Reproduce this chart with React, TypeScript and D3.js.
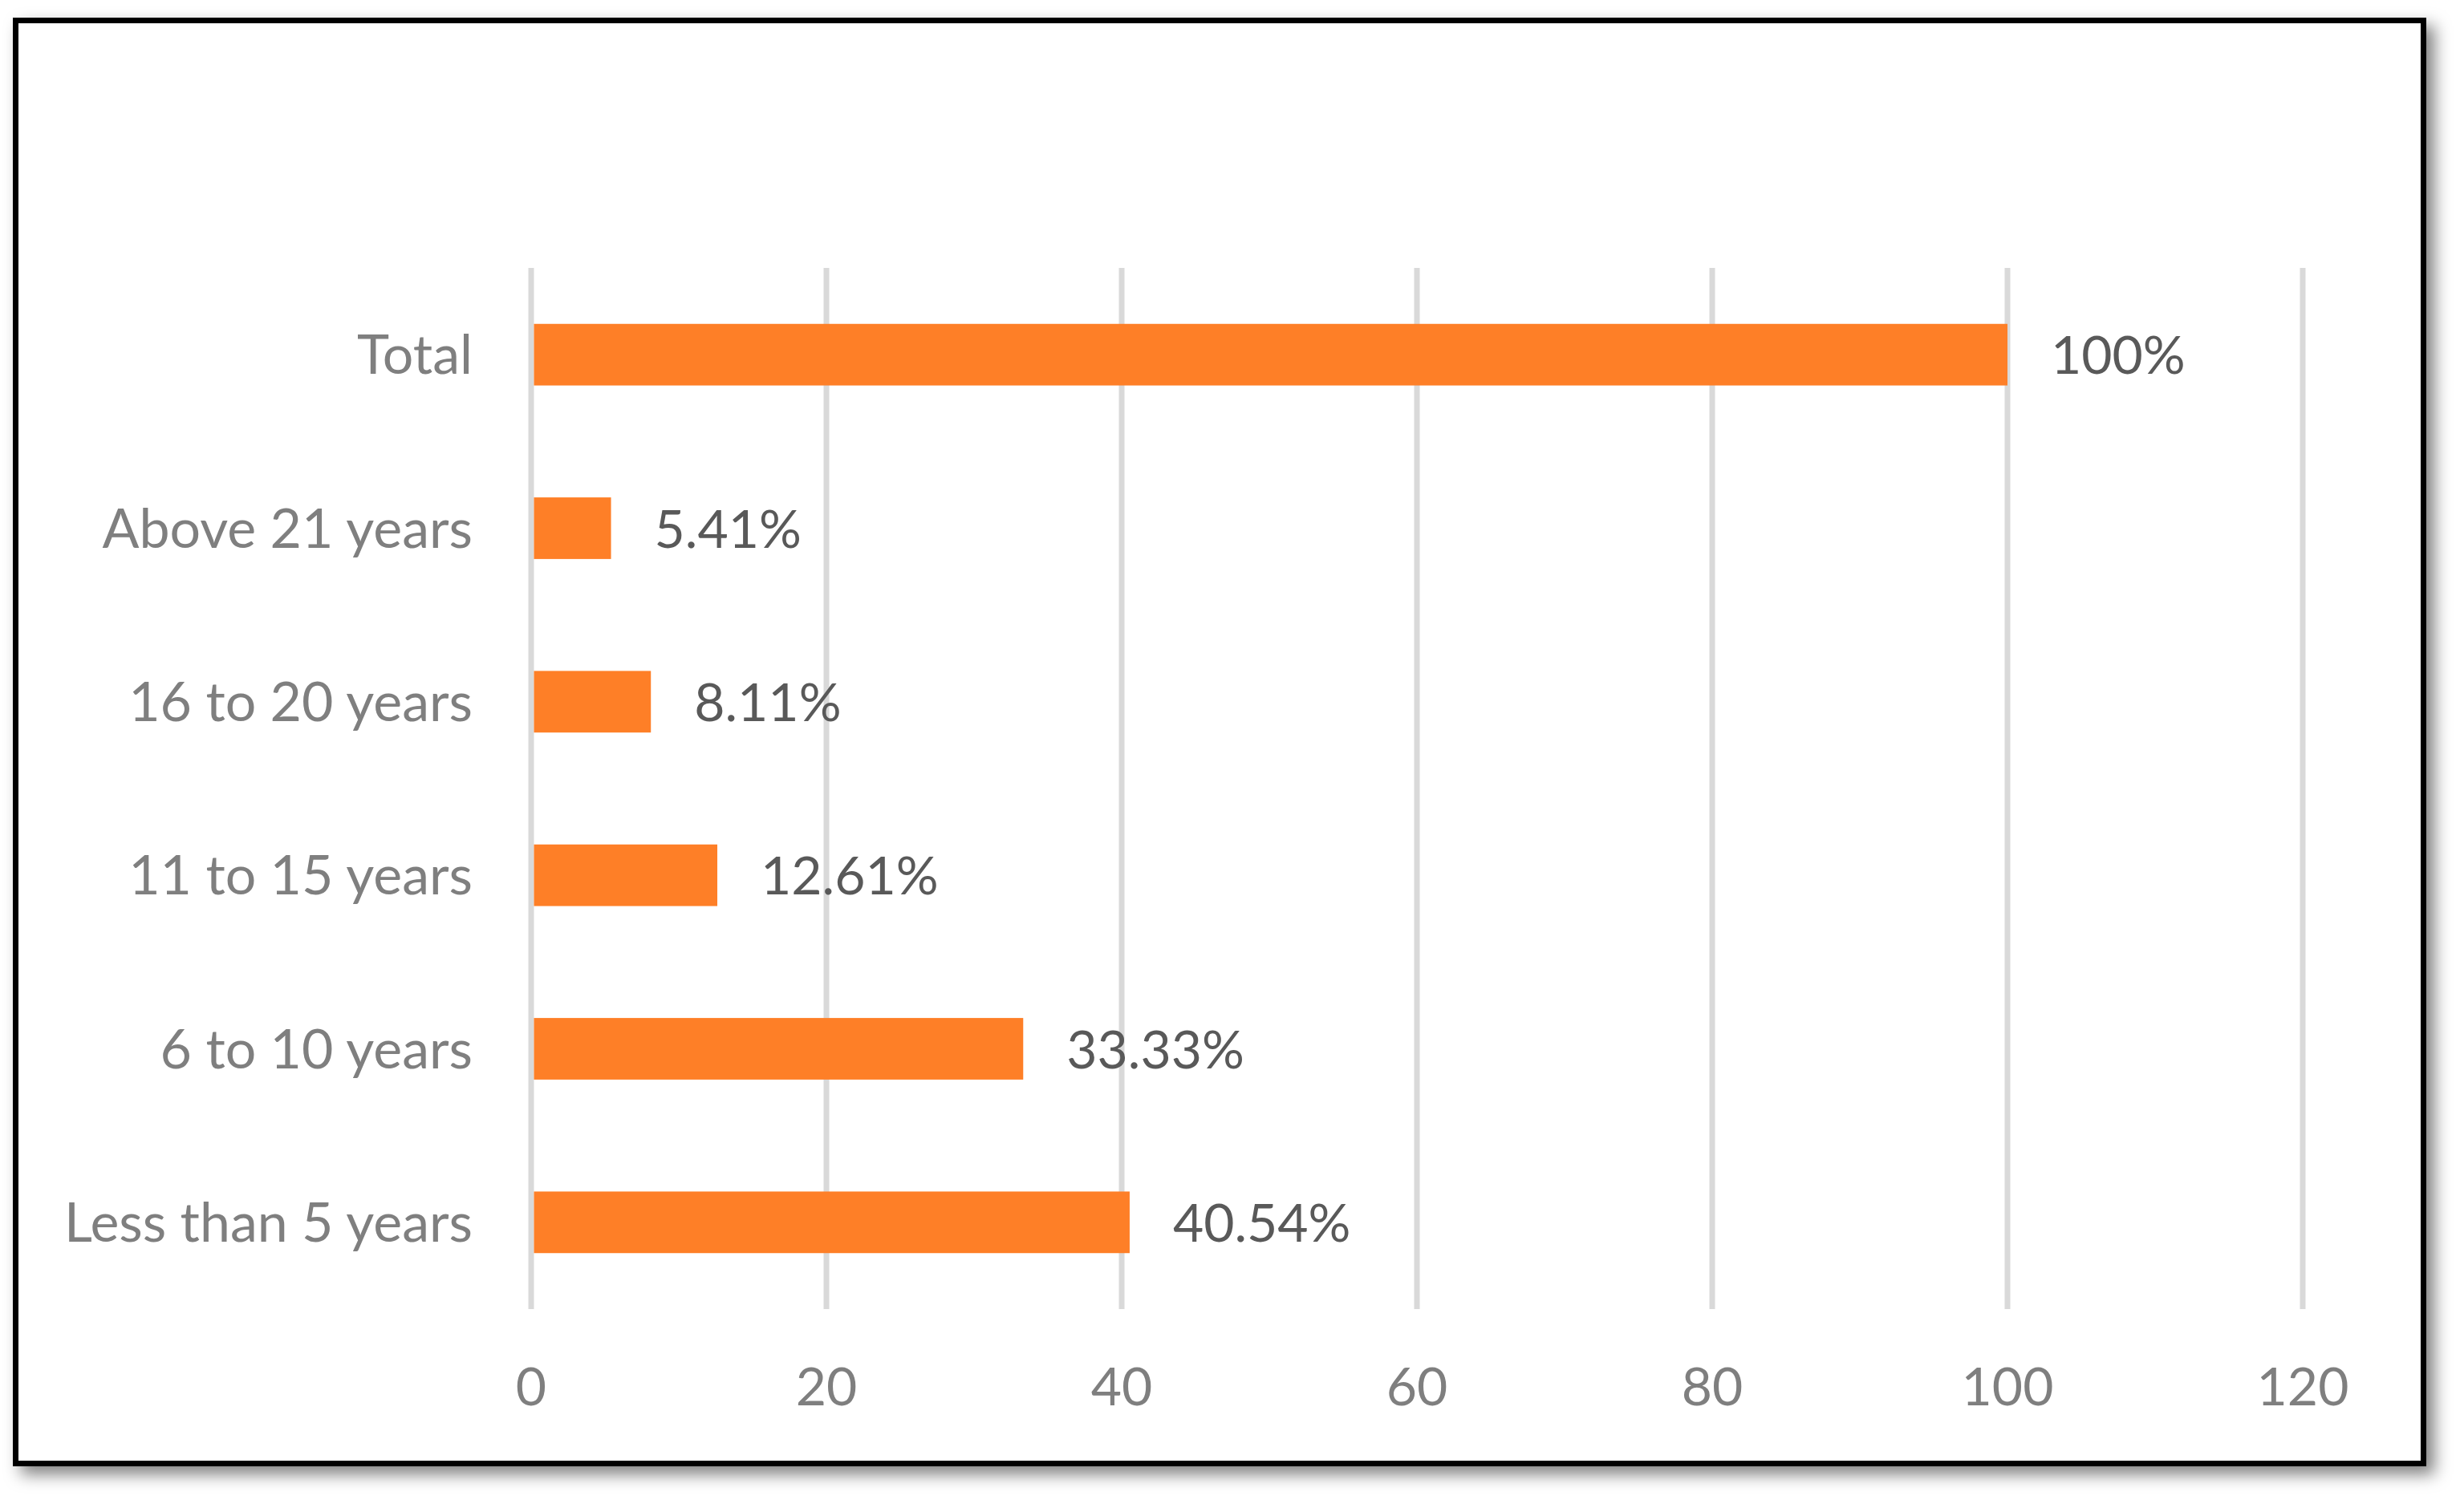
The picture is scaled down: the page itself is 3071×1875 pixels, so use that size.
import React from "react";
import * as d3 from "d3";

const categories = ["Total", "Above 21 years", "16 to 20 years", "11 to 15 years", "6 to 10 years", "Less than 5 years"];
const values = [100, 5.41, 8.11, 12.61, 33.33, 40.54];
const valueLabels = ["100%", "5.41%", "8.11%", "12.61%", "33.33%", "40.54%"];
const ticks = [0, 20, 40, 60, 80, 100, 120];

const W = 3071;
const H = 1875;
const font = "Lato, Carlito, 'Open Sans', sans-serif";

const App = () => {
  const plot = { left: 662, right: 2870, top: 334, bottom: 1632 };

  const x = d3.scaleLinear().domain([0, 120]).range([plot.left, plot.right]);
  const y = d3
    .scaleBand<string>()
    .domain(categories)
    .range([plot.top, plot.bottom])
    .paddingInner(0.645)
    .paddingOuter(0.3225);

  const gridW = 7;
  const fontSize = 66;
  const capHalf = 24; // roughly half the cap height, to centre text on a band

  return (
    <div style={{ position: "absolute", left: 0, top: 0 }}>
      <svg width={W} height={H} style={{ display: "block" }}>
        <defs>
          <filter id="shadow" x="-5%" y="-5%" width="110%" height="110%">
            <feDropShadow dx="10" dy="10" stdDeviation="10" floodColor="#000" floodOpacity="0.5" />
          </filter>
        </defs>
        <rect width={W} height={H} fill="#fff" />
        {/* framed chart area */}
        <rect x={19.5} y={25.5} width={3001} height={1799} fill="#fff" stroke="#000" strokeWidth={7} filter="url(#shadow)" />

        {/* vertical gridlines */}
        {ticks.map((t) => (
          <line key={"g" + t} x1={x(t)} x2={x(t)} y1={plot.top} y2={plot.bottom} stroke="#d9d9d9" strokeWidth={gridW} />
        ))}

        {/* bars */}
        {categories.map((c, i) => (
          <rect
            key={"b" + c}
            x={x(0) + gridW / 2}
            y={y(c)}
            width={x(values[i]) - x(0) - gridW / 2}
            height={y.bandwidth()}
            fill="#fe7f27"
          />
        ))}

        {/* value labels */}
        {categories.map((c, i) => (
          <text
            key={"v" + c}
            x={x(values[i]) + 54}
            y={(y(c) as number) + y.bandwidth() / 2 + capHalf}
            fontFamily={font}
            fontSize={fontSize}
            fill="#595959"
          >
            {valueLabels[i]}
          </text>
        ))}

        {/* category labels */}
        {categories.map((c) => (
          <text
            key={"c" + c}
            x={589}
            y={(y(c) as number) + y.bandwidth() / 2 + capHalf}
            textAnchor="end"
            fontFamily={font}
            fontSize={68}
            fill="#7f7f7f"
          >
            {c}
          </text>
        ))}

        {/* x axis tick labels */}
        {ticks.map((t) => (
          <text key={"t" + t} x={x(t)} y={1752} textAnchor="middle" fontFamily={font} fontSize={fontSize} fill="#7f7f7f">
            {t}
          </text>
        ))}
      </svg>
    </div>
  );
};

export default App;
